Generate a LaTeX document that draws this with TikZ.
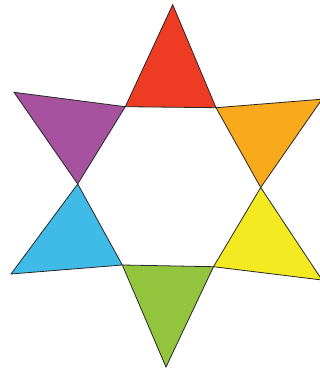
\documentclass[tikz,border=0pt]{standalone}
\usepackage{tikz}
\definecolor{cred}{HTML}{EE3B24}
\definecolor{corange}{HTML}{F9A91C}
\definecolor{cyellow}{HTML}{F3EA22}
\definecolor{cgreen}{HTML}{93C43E}
\definecolor{cblue}{HTML}{40BBE8}
\definecolor{cpurple}{HTML}{A6529E}
\tikzset{tri/.style={draw=black!85, line width=0.8pt, line join=miter}}
\begin{document}
\begin{tikzpicture}[x=1pt,y=-1pt]
\useasboundingbox (0,0) rectangle (320,369);
\clip (0,0) rectangle (320,369);
% hexagon corners
\coordinate (A) at (125.3,106.7);
\coordinate (B) at (216,107.7);
\coordinate (C) at (260.7,187.5);
\coordinate (D) at (213.5,266.7);
\coordinate (E) at (122.3,265);
\coordinate (F) at (77.7,184);
% tips
\coordinate (T1) at (172.7,4.7);
\coordinate (T2) at (322,99.2);
\coordinate (T3) at (322,280);
\coordinate (T4) at (166,367);
\coordinate (T5) at (11,274);
\coordinate (T6) at (14,92.3);
\filldraw[tri, fill=cred] (A) -- (T1) -- (B) -- cycle;
\filldraw[tri, fill=corange] (B) -- (T2) -- (C) -- cycle;
\filldraw[tri, fill=cyellow] (C) -- (T3) -- (D) -- cycle;
\filldraw[tri, fill=cgreen] (D) -- (T4) -- (E) -- cycle;
\filldraw[tri, fill=cblue] (E) -- (T5) -- (F) -- cycle;
\filldraw[tri, fill=cpurple] (F) -- (T6) -- (A) -- cycle;
\end{tikzpicture}
\end{document}
